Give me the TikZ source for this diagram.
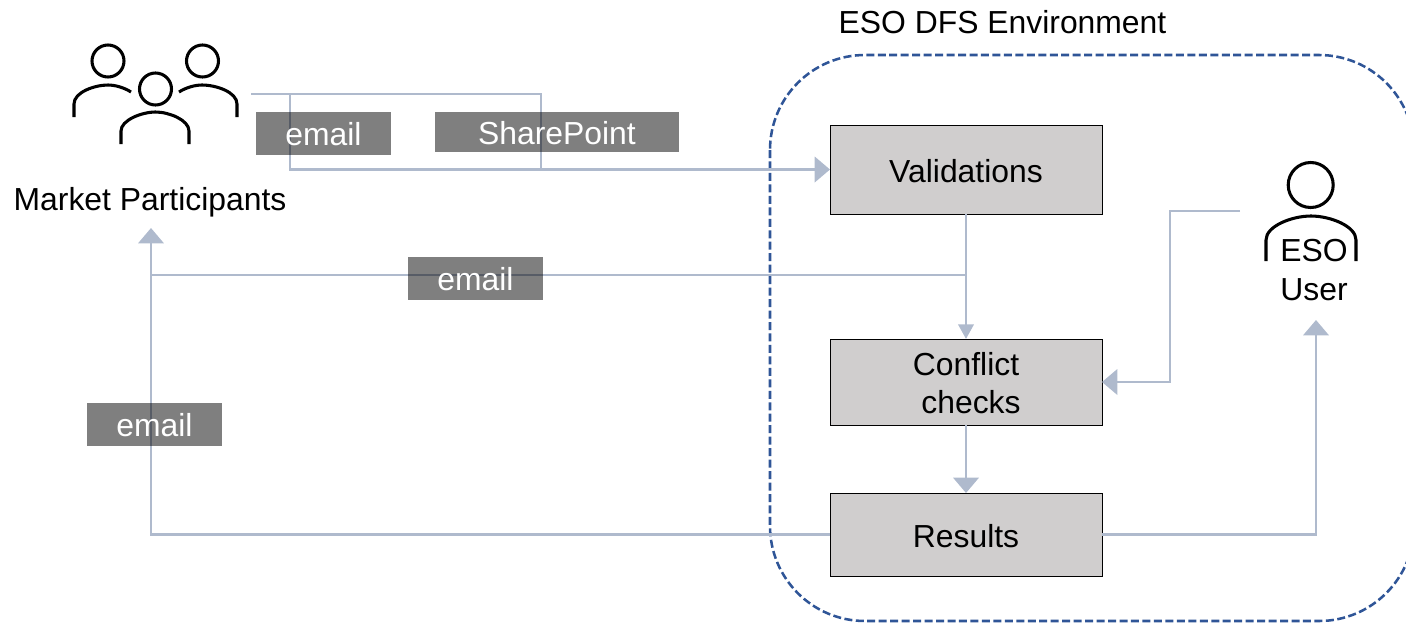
\documentclass[tikz,border=0pt]{standalone}
\usepackage{fontspec}
\setmainfont{Liberation Sans}
\usetikzlibrary{arrows.meta,calc}
\definecolor{linkc}{HTML}{AFBACD}
\definecolor{boxc}{HTML}{D0CECE}
\definecolor{dashc}{HTML}{2F5597}
\newcommand{\px}[1]{#1*0.75pt}
\newcommand{\fs}{\fontsize{23.9pt}{28.5pt}\selectfont}
\tikzset{
  x=0.75pt,y=-0.75pt,
  every node/.style={font=\fs,inner sep=0pt,outer sep=0pt},
  procbox/.style={draw=black,line width=0.75pt,fill=boxc,align=center,minimum width=\px{272},text=black},
  tagbox/.style={fill=black,fill opacity=0.5,text opacity=1,text=white,text height=\px{23},text depth=\px{0}},
  link/.style={draw=linkc,line width=2.05pt},
  bighead/.style={-{Triangle[length=11.5pt,width=19pt]}},
  smallhead/.style={-{Triangle[length=11pt,width=11.5pt]}},
  icon/.style={draw=black,line width=2.3pt,fill=none},
  lbl/.style={anchor=base,text=black},
}
\begin{document}
\begin{tikzpicture}
\useasboundingbox (0,0) rectangle (1406,622);
\begin{scope}
\clip (0,0) rectangle (1406,622);
\draw[dashc,line width=1.9pt,dash pattern=on 6pt off 2.6pt,rounded corners=\px{95}] (770,55) rectangle (1414,621);
\end{scope}

% process boxes
\node[procbox,minimum height=\px{89},text height=\px{25},text depth=\px{0}] (val) at (966,169.5) {Validations};
\node[procbox,minimum height=\px{86}] (con) at (966,382) {\rule{0pt}{18.8pt}Conflict\\\hspace*{7.5pt}checks};
\node[procbox,minimum height=\px{83},text height=\px{25},text depth=\px{0}] (res) at (966,534.5) {Results};

% labels
\node[lbl] (title) at (1002.5,33) {ESO DFS Environment};
\node[lbl] (mp) at (150,210) {Market Participants};
\node[lbl] (esoa) at (1314,261) {ESO};
\node[lbl] (esob) at (1314,300) {User};

% free ends
\coordinate (mpout) at (251,94);
\coordinate (mpin) at (151,228);
\coordinate (userin) at (1316,320);
\coordinate (userout) at (1240,211);
\coordinate (branch) at (966,275);
\coordinate (join) at (541,169.5);

% connectors
\draw[link] (mpout) -- (541,94) -- (join);
\draw[link,bighead] (290,94) -- (290,169.5) -- (val.west);
\draw[link,smallhead] (val.south) -- (con.north);
\draw[link] (branch) -- (151,275);
\draw[link,bighead] (res.west) -- (151,534.5) -- (mpin);
\draw[link,bighead] (con.south) -- (res.north);
\draw[link,bighead] (userout) -- (1170,211) -- (1170,382) -- (con.east);
\draw[link,bighead] (res.east) -- (1316,534.5) -- (userin);

% tags
\node[tagbox,minimum width=\px{135},minimum height=\px{43}] (t1) at (323.5,133.5) {email};
\node[tagbox,minimum width=\px{244},minimum height=\px{40},text height=\px{24}] (t2) at (557,132) {SharePoint};
\node[tagbox,minimum width=\px{135},minimum height=\px{43}] (t3) at (475.5,278.5) {email};
\node[tagbox,minimum width=\px{135},minimum height=\px{43}] (t4) at (154.5,424.5) {email};

% people icons
\draw[icon] (108,61) circle (\px{16});
\draw[icon] (202.5,61) circle (\px{16});
\draw[icon] (155.5,89) circle (\px{16});
\draw[icon] (74,117) -- (74,104) .. controls (74,92) and (95,85) .. (108,85) .. controls (115,85) and (124,87.5) .. (131,92);
\draw[icon] (237,117) -- (237,104) .. controls (237,92) and (216,85) .. (202,85) .. controls (195,85) and (186,87.5) .. (179,92);
\draw[icon] (121,144) -- (121,131) .. controls (121,120) and (142,112) .. (155.5,112) .. controls (169,112) and (189,120) .. (189,131) -- (189,144);
\draw[icon] (1310.7,185) circle (\px{22.5});
\draw[icon] (1266,261) -- (1266,240) .. controls (1266,226) and (1292,216) .. (1311,216) .. controls (1330,216) and (1356,226) .. (1356,240) -- (1356,261);
\end{tikzpicture}
\end{document}
